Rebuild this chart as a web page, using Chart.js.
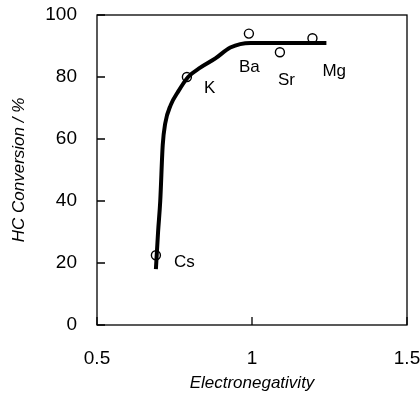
<!DOCTYPE html>
<html>
<head>
<meta charset="utf-8">
<script src="https://cdn.jsdelivr.net/npm/chart.js@4/dist/chart.umd.min.js"></script>
<style>
  body { margin: 0; background: #fff; }
  #wrap { width: 420px; height: 393px; }
</style>
</head>
<body>
<div id="wrap"><canvas id="chart"></canvas></div>
<script>
// measured points (electronegativity vs HC conversion)
const metals = ['Cs', 'K', 'Ba', 'Sr', 'Mg'];
const electroneg = [0.69, 0.79, 0.99, 1.09, 1.195];
const conversion = [22.5, 80, 94, 88, 92.5];

// hand-drawn trend curve
const curveX = [0.69, 0.697, 0.704, 0.712, 0.72, 0.738, 0.76, 0.794, 0.833, 0.882, 0.93, 0.995, 1.1, 1.24];
const curveY = [18, 30, 40, 58, 65, 71, 75, 80, 83, 86, 89.5, 91, 91, 91];

const xTicks = [0.5, 1, 1.5];
const yTicks = [0, 20, 40, 60, 80, 100];

// label offsets in px from each point
const labelOffset = {
    Cs: [18, 7], K: [17, 11], Ba: [-10, 34], Sr: [-2, 28], Mg: [10, 33]
};

const frameAndLabels = {
    id: 'frameAndLabels',
    afterDatasetsDraw(chart) {
        const { ctx, chartArea: a, scales } = chart;
        ctx.save();
        ctx.strokeStyle = '#000';
        ctx.lineWidth = 1.3;
        ctx.strokeRect(a.left, a.top, a.right - a.left, a.bottom - a.top);
        // inward tick marks
        ctx.beginPath();
        yTicks.forEach(v => {
            const y = scales.y.getPixelForValue(v);
            ctx.moveTo(a.left, y);
            ctx.lineTo(a.left + 8, y);
        });
        xTicks.forEach(v => {
            const x = scales.x.getPixelForValue(v);
            ctx.moveTo(x, a.bottom);
            ctx.lineTo(x, a.bottom - 8);
        });
        ctx.stroke();
        // point labels
        ctx.fillStyle = '#000';
        ctx.font = '17px "Liberation Sans", Arial, sans-serif';
        ctx.textBaseline = 'middle';
        ctx.textAlign = 'left';
        metals.forEach((m, i) => {
            const x = scales.x.getPixelForValue(electroneg[i]);
            const y = scales.y.getPixelForValue(conversion[i]);
            ctx.fillText(m, x + labelOffset[m][0], y + labelOffset[m][1]);
        });
        ctx.restore();
    }
};

const font = '"Liberation Sans", Arial, sans-serif';

new Chart(document.getElementById('chart'), {
    type: 'scatter',
    data: {
        datasets: [
            {
                type: 'line',
                data: curveX.map((x, i) => ({ x: x, y: curveY[i] })),
                borderColor: '#000',
                borderWidth: 4,
                pointRadius: 0,
                fill: false,
                cubicInterpolationMode: 'monotone'
            },
            {
                data: electroneg.map((x, i) => ({ x: x, y: conversion[i] })),
                backgroundColor: '#fff',
                borderColor: '#000',
                borderWidth: 1.4,
                pointRadius: 4.5
            }
        ]
    },
    options: {
        responsive: true,
        maintainAspectRatio: false,
        animation: false,
        layout: { padding: { top: 15, right: 13, left: 0, bottom: 0 } },
        plugins: { legend: { display: false }, tooltip: { enabled: false } },
        scales: {
            x: {
                type: 'linear',
                min: 0.5, max: 1.5,
                afterBuildTicks: s => { s.ticks = xTicks.map(v => ({ value: v })); },
                afterFit: s => { s.height = 68; s.paddingLeft = 0; s.paddingRight = 0; },
                grid: { display: false },
                border: { display: false },
                ticks: {
                    padding: 14,
                    color: '#000',
                    font: { family: font, size: 19 },
                    callback: v => String(v)
                },
                title: {
                    display: true,
                    text: 'Electronegativity',
                    color: '#000',
                    padding: { top: 3, bottom: 0 },
                    font: { family: font, size: 17, style: 'italic' }
                }
            },
            y: {
                min: 0, max: 100,
                afterBuildTicks: s => { s.ticks = yTicks.map(v => ({ value: v })); },
                afterFit: s => { s.width = 97; s.paddingTop = 0; s.paddingBottom = 0; },
                grid: { display: false },
                border: { display: false },
                ticks: {
                    padding: 12,
                    color: '#000',
                    font: { family: font, size: 19 }
                },
                title: {
                    display: true,
                    text: 'HC Conversion / %',
                    color: '#000',
                    padding: { top: 9, bottom: 4 },
                    font: { family: font, size: 17, style: 'italic' }
                }
            }
        }
    },
    plugins: [frameAndLabels]
});
</script>
</body>
</html>
